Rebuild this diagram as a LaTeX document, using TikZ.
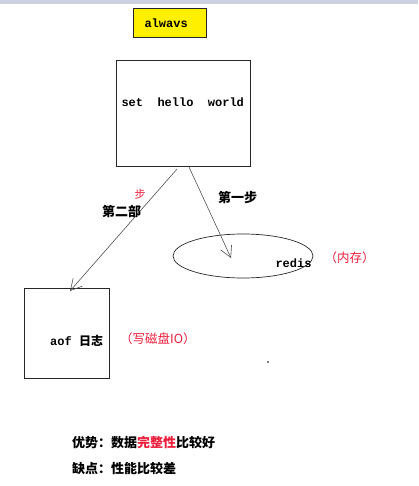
\documentclass[tikz,border=0pt]{standalone}
\usepackage{fontspec}
\setmainfont{Liberation Serif}
\setmonofont{Liberation Mono}
\newfontfamily\cjk{Noto Sans CJK SC}
\usetikzlibrary{arrows.meta}
\definecolor{topband}{RGB}{205,210,225}
\definecolor{yel}{RGB}{255,240,0}
\definecolor{redtxt}{RGB}{235,30,60}
\definecolor{linegray}{RGB}{80,80,80}
\tikzset{
  box/.style={draw=black!85, line width=0.8pt, inner sep=0pt},
  arr/.style={draw=linegray, line width=0.6pt, -{Straight Barb[length=11pt,width=12pt]}},
  mono/.style={font=\fontsize{12}{14}\selectfont\ttfamily\bfseries},
  cjklabel/.style={font=\fontsize{13}{15}\selectfont\cjk\bfseries},
  redlabel/.style={font=\fontsize{12.5}{15}\selectfont\cjk, text=redtxt},
}
\begin{document}
\begin{tikzpicture}[x=1pt,y=-1pt]
\useasboundingbox (0,0) rectangle (418,486);
\fill[topband] (0,0) rectangle (418,4);
% yellow title
\node[box, fill=yel, minimum width=73pt, minimum height=29pt, anchor=north west] (title) at (133,8) {};
\node[mono, anchor=west] (titletext) at (141,23) {alwavs};
% set box
\node[box, minimum width=134pt, minimum height=106pt, anchor=north west] (setbox) at (116,60) {};
\node[mono, anchor=west] (settext) at (118,102) {set\ \ hello\ \ world};
% ellipse
\draw[black!85, line width=0.7pt] (243,256) ellipse [x radius=70, y radius=22];
\coordinate (redisc) at (243,256);
\node[mono, anchor=west] (redis) at (272,263) {redis};
\node[redlabel, anchor=west] (mem) at (321,258) {（内存）};
% aof box
\node[box, minimum width=85pt, minimum height=90pt, anchor=north west] (aofbox) at (24,288) {};
\node[anchor=west, inner sep=0pt] (aoftext) at (50,341) {\fontsize{12}{14}\selectfont\ttfamily\bfseries aof \cjk 日志};
\node[redlabel, anchor=west, inner sep=0pt] (disk) at (120,339) {（写磁盘IO）};
% arrows
\coordinate (s1) at (189,167);
\coordinate (e1) at (231,258);
\coordinate (s2) at (177,169);
\coordinate (e2) at (70,291);
\draw[arr] (s1) -- (e1);
\draw[arr] (s2) -- (e2);
\node[cjklabel, anchor=west, inner sep=0pt] (step1) at (218,198) {第一步};
\node[cjklabel, anchor=west, inner sep=0pt] (step2) at (102,212) {第二部};
\node[font=\fontsize{11}{12}\selectfont\cjk, text=redtxt, inner sep=0pt] (bu) at (140,194) {步};
% dot
\fill[black] (268,362) circle (0.8);
% bottom text
\node[cjklabel, anchor=west, inner sep=0pt] (pro) at (72,443) {优势：数据{\color{redtxt}完整性}比较好};
\node[cjklabel, anchor=west, inner sep=0pt] (con) at (72,469) {缺点：性能比较差};
\end{tikzpicture}
\end{document}
